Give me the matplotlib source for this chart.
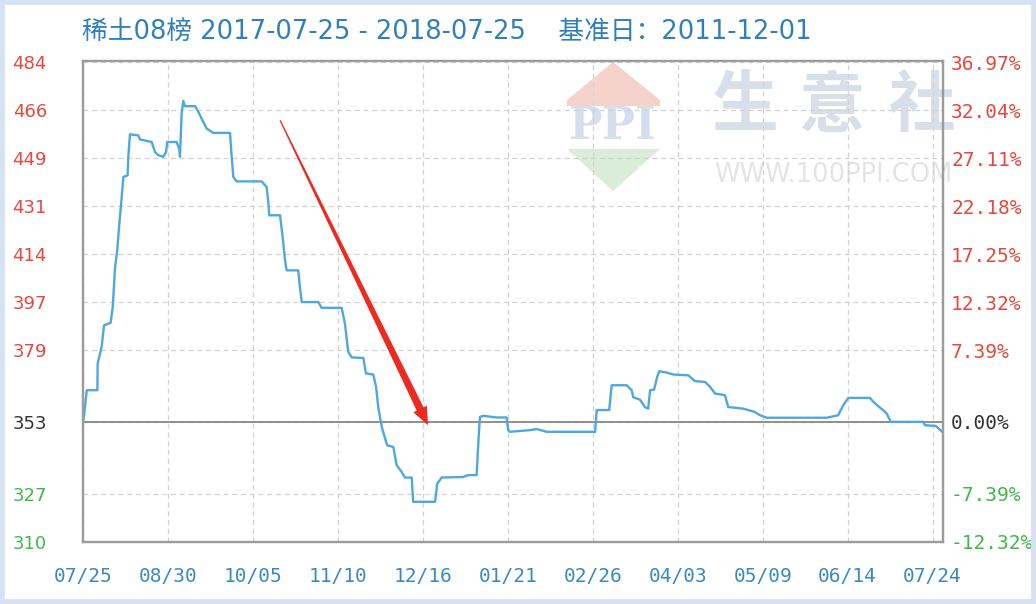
import numpy as np
import matplotlib
matplotlib.use("Agg")
import matplotlib.pyplot as plt
from matplotlib.patches import Polygon, Rectangle

W, H = 1036, 604

TITLE = "稀土08榜 2017-07-25 - 2018-07-25    基准日：2011-12-01"
BASE = 353
PCT_TICKS = [-12.32, -7.39, 0.00, 7.39, 12.32, 17.25, 22.18, 27.11, 32.04, 36.97]
LEFT_LABELS = ["310", "327", "353", "379", "397", "414", "431", "449", "466", "484"]
X_TICKS = [0, 36, 72, 108, 144, 180, 216, 252, 288, 324, 360]
X_LABELS = ["07/25", "08/30", "10/05", "11/10", "12/16", "01/21",
            "02/26", "04/03", "05/09", "06/14", "07/24"]

# day offset from 2017-07-25 (axis units) and price index
DAY = [0.0, 0.4, 1.6, 6.1, 6.2, 7.9, 8.9, 11.7, 12.6, 13.6, 14.5, 15.4, 16.1,
       17.1, 18.9, 19.2, 19.9, 23.4, 24.2, 29.1, 30.5, 31.9, 34.0, 35.2, 35.7,
       39.7, 40.8, 41.1, 41.8, 42.5, 43.2, 47.5, 48.9, 50.3, 51.7, 52.4, 55.2,
       62.3, 63.0, 63.7, 65.1, 75.7, 77.8, 78.5, 78.9, 83.5, 84.6, 85.6, 86.3,
       91.2, 91.9, 92.7, 99.7, 101.1, 109.6, 111.0, 112.4, 113.9, 118.8, 119.9,
       123.0, 124.2, 125.1, 126.6, 128.0, 128.9, 131.5, 132.9, 135.0, 136.4,
       139.3, 139.9, 149.2, 150.1, 152.0, 161.1, 163.3, 166.8, 167.5, 168.2,
       169.6, 175.3, 179.5, 180.2, 180.9, 189.4, 192.2, 196.5, 217.0, 217.7,
       223.0, 224.0, 230.4, 232.5, 233.2, 236.0, 238.1, 239.5, 240.3, 242.0,
       243.3, 244.2, 247.3, 250.1, 256.5, 259.3, 263.6, 265.7, 267.8, 272.0,
       273.4, 279.8, 284.7, 286.9, 289.7, 315.1, 320.0, 322.2, 324.3, 333.5,
       334.9, 337.0, 339.1, 340.6, 342.3, 356.1, 356.8, 361.4, 364.0]
PRICE = [353.0, 355.0, 364.5, 364.5, 374.2, 380.2, 388.0, 389.0, 394.7, 409.2,
         415.3, 425.0, 431.6, 441.9, 442.5, 449.2, 457.4, 457.0, 455.5, 454.6,
         451.0, 449.8, 449.2, 451.0, 454.6, 454.6, 452.0, 449.2, 464.9, 469.5,
         467.6, 467.6, 465.5, 463.0, 460.7, 459.5, 457.9, 457.9, 449.2, 441.9,
         440.3, 440.3, 438.3, 433.0, 428.0, 428.0, 420.1, 411.7, 408.0, 408.0,
         402.0, 396.5, 396.5, 394.4, 394.4, 388.7, 378.4, 376.4, 376.2, 370.6,
         370.2, 365.7, 358.4, 351.2, 347.0, 344.5, 343.9, 337.3, 334.9, 332.8,
         332.8, 324.0, 324.0, 330.6, 332.8, 333.0, 333.7, 333.7, 345.2, 354.8,
         355.2, 354.6, 354.6, 350.0, 349.4, 350.0, 350.4, 349.4, 349.4, 357.3,
         357.3, 366.3, 366.3, 364.5, 361.9, 361.1, 358.4, 357.8, 364.5, 364.7,
         369.3, 371.4, 370.9, 370.2, 369.9, 367.8, 367.5, 365.7, 363.3, 362.7,
         358.4, 357.8, 356.6, 355.4, 354.5, 354.5, 355.4, 359.1, 361.7, 361.7,
         360.3, 358.7, 357.2, 356.0, 353.0, 353.0, 351.8, 351.5, 349.5]

# red annotation arrow: (day, price) of tail and tip
ARROW_FROM = (83.5, 462.5)
ARROW_TO = (146.2, 351.8)

RED = "#e8473d"
GREEN = "#3dba4a"
DARK = "#333333"
BLUE = "#3a8ac2"


def fpos(x, y):
    """image pixel -> figure fraction"""
    return x / W, 1 - y / H


def tick_color(p):
    if p > 0:
        return RED
    if p < 0:
        return GREEN
    return DARK


def main():
    fig = plt.figure(figsize=(W / 100, H / 100), dpi=100, facecolor="white")
    l, t = fpos(83, 61)
    r, b = fpos(942.7, 542)
    ax = fig.add_axes([l, b, r - l, t - b])
    ax.set_facecolor("none")

    yt = [BASE * (1 + p / 100) for p in PCT_TICKS]
    ax.set_xlim(0, 364.3)
    ax.set_ylim(309.4, 484.0)

    ax.grid(True, color="#d2d2d2", linestyle=(0, (4, 3)), linewidth=0.9)
    ax.axhline(BASE, color="#8f8f8f", lw=1.4, zorder=2)
    ax.plot(DAY, PRICE, color="#4ea8dd", lw=1.7, zorder=3)

    ax.set_yticks(yt)
    ax.set_yticklabels(LEFT_LABELS, fontsize=13, family="DejaVu Sans")
    for lab, p in zip(ax.get_yticklabels(), PCT_TICKS):
        lab.set_color(tick_color(p))
    ax.set_xticks(X_TICKS)
    ax.set_xticklabels(X_LABELS, fontsize=14, family="DejaVu Sans Mono", color=BLUE)
    ax.tick_params(axis="y", length=0, pad=26)
    ax.tick_params(axis="x", length=0, pad=18)

    ax2 = ax.twinx()
    ax2.set_ylim(ax.get_ylim())
    ax2.set_yticks(yt)
    ax2.set_yticklabels([f"{p:.2f}%" for p in PCT_TICKS], fontsize=14,
                        family="DejaVu Sans Mono")
    for lab, p in zip(ax2.get_yticklabels(), PCT_TICKS):
        lab.set_color(tick_color(p))
    ax2.tick_params(axis="y", length=0, pad=6)

    for a in (ax, ax2):
        for s in a.spines.values():
            s.set_color("#9c9c9c")
            s.set_linewidth(1.6)

    # tapered red arrow, built in pixel space then mapped back to data
    p0 = ax.transData.transform(ARROW_FROM)
    p1 = ax.transData.transform(ARROW_TO)
    u = (p1 - p0) / np.hypot(*(p1 - p0))
    n = np.array([-u[1], u[0]])
    neck = p1 - u * 18
    verts = [p0 + n * 0.6, neck + n * 3.8, neck + n * 7.5, p1,
             neck - n * 7.5, neck - n * 3.8, p0 - n * 0.6]
    verts = ax.transData.inverted().transform(np.array(verts))
    ax.add_patch(Polygon(verts, closed=True, color="#ec2a1f", lw=0, zorder=4))

    # title
    x0, y0 = fpos(82, 32)
    fig.text(x0, y0, TITLE, fontsize=18.5, color="#2f80b9", va="center",
             family=["DejaVu Sans", "Noto Sans CJK SC"])

    # watermark (logo + site name)
    def poly(pts, c):
        fig.patches.append(Polygon([fpos(*q) for q in pts], closed=True,
                                   transform=fig.transFigure, color=c,
                                   lw=0, zorder=-2))
    poly([(613, 62), (660, 100), (660, 106), (567, 106), (567, 100)], "#f6d2cd")
    poly([(567, 149), (660, 149), (613, 191)], "#d9edd9")
    fig.text(*fpos(613, 126), "PPI", fontsize=32, fontweight="bold",
             family="DejaVu Serif", color="#d6deee", ha="center", va="center",
             zorder=-1)
    for ch, cx in zip("生意社", (744, 832, 922)):
        fig.text(*fpos(cx, 107), ch, fontsize=48, color="#d9dfe9",
                 ha="center", va="center", family="Noto Sans CJK SC",
                 fontweight="bold", zorder=-1)
    fig.text(*fpos(833, 175), "WWW.100PPI.COM", fontsize=18.5,
             color="#e4e4e4", ha="center", va="center", zorder=-1)

    # light blue frame around the picture
    fig.patches.append(Rectangle((0, 0), 1, 1, transform=fig.transFigure,
                                 fill=False, edgecolor="#d5e2f3", lw=7,
                                 zorder=5))

    fig.savefig("out.png", dpi=100)


if __name__ == "__main__":
    main()
